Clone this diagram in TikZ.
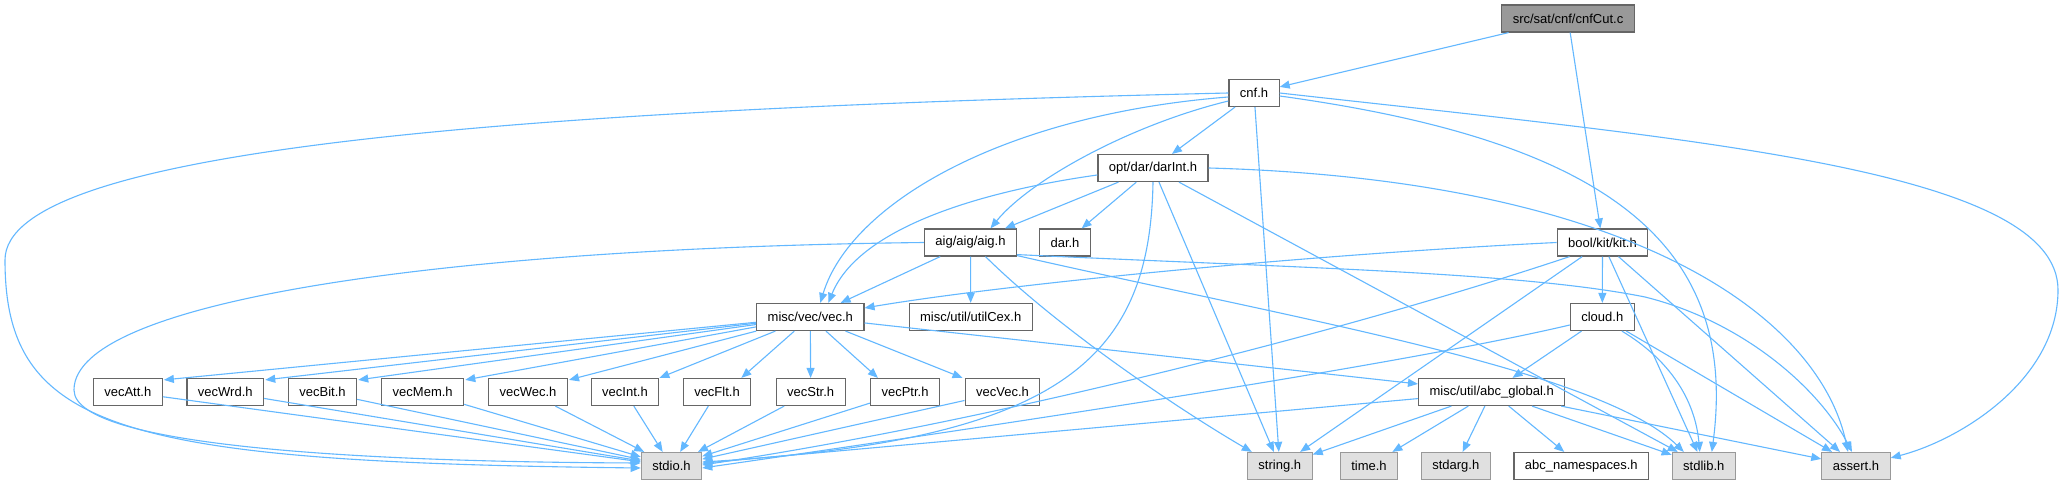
\documentclass[tikz,border=0pt]{standalone}
\usepackage{fontspec}
\setmainfont{Liberation Sans}
\usetikzlibrary{arrows.meta,calc}
\definecolor{edgec}{HTML}{63B8FF}
\definecolor{bordc}{HTML}{666666}
\definecolor{sysb}{HTML}{999999}
\definecolor{sysf}{HTML}{E0E0E0}
\definecolor{rootf}{HTML}{999999}
\begin{document}
\begin{tikzpicture}[x=1bp,y=-1bp,
  box/.style={draw=bordc, fill=white, line width=1.2bp, minimum height=27bp, inner xsep=11bp, inner ysep=0pt, font=\fontsize{13bp}{15bp}\selectfont, text=black},
  sysbox/.style={box, draw=sysb, fill=sysf},
  rootbox/.style={box, fill=rootf},
  dep/.style={draw=edgec, line width=1.1bp, -{Triangle[length=10bp,width=8bp]}}
]
\useasboundingbox (0,0) rectangle (2064,485);
\fill[white] (0,0) rectangle (2064,485);

% nodes
\node[rootbox] (cnfCut) at (1568,18.5) {src/sat/cnf/cnfCut.c};
\node[box] (cnf) at (1254,93) {cnf.h};
\node[box] (darInt) at (1153,168) {opt/dar/darInt.h};
\node[box] (aig) at (970.5,242.5) {aig/aig/aig.h};
\node[box] (dar) at (1065,242.5) {dar.h};
\node[box] (kit) at (1602.5,242.5) {bool/kit/kit.h};
\node[box] (vec) at (810.3,317) {misc/vec/vec.h};
\node[box] (utilCex) at (970.7,317) {misc/util/utilCex.h};
\node[box] (cloud) at (1602.3,317) {cloud.h};
\node[box] (vecAtt) at (127.8,392) {vecAtt.h};
\node[box] (vecWrd) at (225.3,392) {vecWrd.h};
\node[box] (vecBit) at (322.5,392) {vecBit.h};
\node[box] (vecMem) at (422.7,392) {vecMem.h};
\node[box] (vecWec) at (528,392) {vecWec.h};
\node[box] (vecInt) at (625,392) {vecInt.h};
\node[box] (vecFlt) at (717,392) {vecFlt.h};
\node[box] (vecStr) at (810.7,392) {vecStr.h};
\node[box] (vecPtr) at (905,392) {vecPtr.h};
\node[box] (vecVec) at (1002.5,392) {vecVec.h};
\node[box] (abcg) at (1491.7,392) {misc/util/abc\_global.h};
\node[sysbox] (stdio) at (671.5,466) {stdio.h};
\node[sysbox] (string) at (1279.8,466) {string.h};
\node[sysbox] (time) at (1369,466) {time.h};
\node[sysbox] (stdarg) at (1455.8,466) {stdarg.h};
\node[box] (abcns) at (1581.3,466) {abc\_namespaces.h};
\node[sysbox] (stdlib) at (1703.8,466) {stdlib.h};
\node[sysbox] (assert) at (1856,466) {assert.h};

% root
\draw[dep] (cnfCut) -- (cnf);
\draw[dep] (cnfCut) -- (kit);

% cnf.h
\draw[dep] (cnf) -- (darInt);
\draw[dep] (cnf.west) .. controls (500,110) and (5,150) .. (5,260) .. controls (5,430) and (120,462) .. ($(stdio.west)+(0,2)$);
\draw[dep] ($(cnf.west)+(0,4)$) .. controls (1000,115) and (850,205) .. ($(vec.north)+(10,0)$);
\draw[dep] ($(cnf.west)+(0,8)$) .. controls (1130,125) and (1030,180) .. ($(aig.north)+(20,0)$);
\draw[dep] (cnf) -- (string);
\draw[dep] ($(cnf.east)+(0,3)$) .. controls (1600,140) and (1740,240) .. ($(stdlib.north)+(8,0)$);
\draw[dep] (cnf.east) .. controls (1700,140) and (2058,170) .. (2058,290) .. controls (2058,380) and (1960,440) .. ($(assert.north east)+(0,6)$);

% darInt.h
\draw[dep] ($(darInt.west)+(0,7)$) .. controls (990,190) and (860,225) .. ($(vec.north)+(18,0)$);
\draw[dep] (darInt) -- (aig);
\draw[dep] (darInt) -- (dar);
\draw[dep] (darInt.south) .. controls (1150,360) and (1060,440) .. ($(stdio.east)+(0,-4)$);
\draw[dep] (darInt) -- (string);
\draw[dep] (darInt) -- (stdlib);
\draw[dep] (darInt.east) .. controls (1640,180) and (1820,320) .. ($(assert.north)+(-8,0)$);

% aig.h
\draw[dep] (aig.west) .. controls (450,248) and (74,300) .. (74,390) .. controls (74,450) and (400,462) .. ($(stdio.west)+(0,-3)$);
\draw[dep] (aig) -- (vec);
\draw[dep] (aig) -- (utilCex);
\draw[dep] ($(aig.south)+(15,0)$) .. controls (1060,330) and (1180,410) .. ($(string.north)+(-28,0)$);
\draw[dep] ($(aig.south east)+(0,-1)$) .. controls (1300,320) and (1600,370) .. ($(stdlib.north)+(-20,0)$);
\draw[dep] ($(aig.south east)+(0,-2)$) .. controls (1300,268) and (1520,272) .. (1645,297) .. controls (1745,322) and (1820,390) .. ($(assert.north)+(-4,0)$);

% kit.h
\draw[dep] (kit.west) .. controls (1300,255) and (1000,285) .. ($(vec.east)+(0,-9)$);
\draw[dep] (kit) -- (cloud);
\draw[dep] ($(kit.south west)+(13,0)$) .. controls (1350,330) and (1000,420) .. ($(stdio.east)+(0,-1)$);
\draw[dep] (kit) -- (string);
\draw[dep] (kit) -- (stdlib);
\draw[dep] (kit) -- (assert);

% cloud.h
\draw[dep] (cloud) -- (abcg);
\draw[dep] ($(cloud.west)+(0,8)$) .. controls (1400,365) and (1000,425) .. ($(stdio.east)+(0,2)$);
\draw[dep] ($(cloud.south east)+(-13,0)$) .. controls (1670,360) and (1695,400) .. ($(stdlib.north)+(-4,0)$);
\draw[dep] (cloud) -- (assert);

% vec.h
\draw[dep] (vec) -- ($(vecAtt.north east)+(1,2)$);
\draw[dep] (vec) -- ($(vecWrd.north east)+(1,2)$);
\draw[dep] (vec) -- ($(vecBit.north east)+(1,2)$);
\draw[dep] (vec) -- ($(vecMem.north east)+(1,2)$);
\draw[dep] (vec) -- ($(vecWec.north east)+(1,2)$);
\draw[dep] (vec) -- ($(vecInt.north east)+(0,0)$);
\draw[dep] (vec) -- ($(vecFlt.north east)+(-10,0)$);
\draw[dep] (vec) -- (vecStr);
\draw[dep] (vec) -- ($(vecPtr.north west)+(8,0)$);
\draw[dep] (vec) -- ($(vecVec.north west)+(-2,0)$);
\draw[dep] (vec) -- (abcg);

% vec*.h -> stdio.h
\foreach \v in {vecAtt,vecWrd,vecBit,vecMem,vecWec,vecInt,vecFlt,vecStr,vecPtr,vecVec}
  \draw[dep] (\v) -- (stdio);

% abc_global.h
\draw[dep] (abcg) -- (stdio);
\draw[dep] (abcg) -- (string);
\draw[dep] (abcg) -- (time);
\draw[dep] (abcg) -- (stdarg);
\draw[dep] (abcg) -- (abcns);
\draw[dep] (abcg) -- (stdlib);
\draw[dep] (abcg) -- (assert);
\end{tikzpicture}
\end{document}
